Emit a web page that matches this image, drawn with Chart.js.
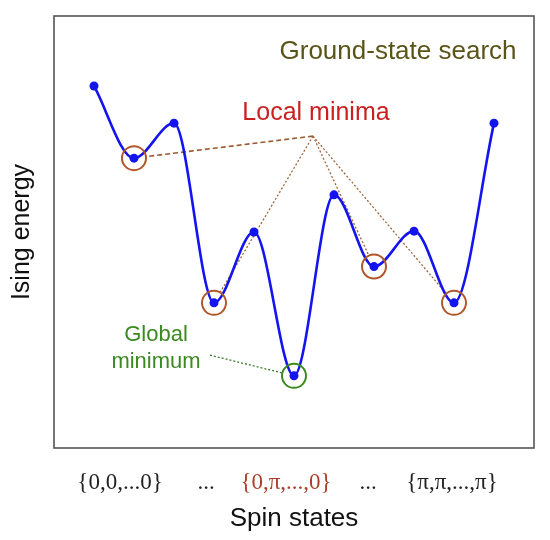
<!DOCTYPE html>
<html><head><meta charset="utf-8">
<script src="https://cdn.jsdelivr.net/npm/chart.js@4"></script>
<style>html,body{margin:0;padding:0;background:#fff}#wrap{width:550px;height:540px}</style>
</head><body><div id="wrap"><canvas id="c" width="550" height="540"></canvas></div>
<script>
// ---- data ----
const stateIndex = [0, 1, 2, 3, 4, 5, 6, 7, 8, 9, 10];
const energy = [83.8, 67.1, 75.2, 33.6, 50.0, 16.7, 58.6, 42.0, 50.2, 33.6, 75.2];
const localMinIdx = [1, 3, 7, 9];
const globalMinIdx = [5];
const tickPositions = [0.65, 2.8, 4.8, 6.85, 8.95];
const tickLabels = ['{0,0,...0}', '...', '{0,\u03c0,...,0}', '...', '{\u03c0,\u03c0,...,\u03c0}'];
const localApex = { x: 5.475, y: 72.2 };
const globalApex = { x: 2.9, y: 21.5 };

const curve = stateIndex.map((x, i) => ({ x, y: energy[i] }));
const localPts = localMinIdx.map(i => ({ x: stateIndex[i], y: energy[i] }));
const globalPts = globalMinIdx.map(i => ({ x: stateIndex[i], y: energy[i] }));

const SANS = '"Liberation Sans", Arial, sans-serif';
const SERIF = '"Liberation Serif", "Times New Roman", serif';

const decor = {
  id: 'decor',
  beforeDatasetsDraw(chart) {
    const { ctx, scales: { x, y } } = chart;
    const R = 12;
    function leader(a, p, dash, color, w) {
      const ax = x.getPixelForValue(a.x), ay = y.getPixelForValue(a.y);
      const px = x.getPixelForValue(p.x), py = y.getPixelForValue(p.y);
      const d = Math.hypot(px - ax, py - ay);
      const ex = px - (px - ax) / d * R, ey = py - (py - ay) / d * R;
      ctx.save();
      ctx.strokeStyle = color; ctx.lineWidth = w; ctx.setLineDash(dash);
      ctx.beginPath(); ctx.moveTo(ax, ay); ctx.lineTo(ex, ey); ctx.stroke();
      ctx.restore();
    }
    localPts.forEach((p, k) => {
      if (k === 0) leader(localApex, p, [5, 3], '#9a5a32', 1.6);
      else leader(localApex, p, [2, 2], '#a0663e', 1.3);
    });
    globalPts.forEach(p => leader(globalApex, p, [2, 2], '#3c7a2a', 1.3));
  },
  afterDraw(chart) {
    const { ctx, chartArea: a } = chart;
    ctx.save();
    ctx.strokeStyle = '#555'; ctx.lineWidth = 1.6;
    ctx.strokeRect(a.left, a.top, a.right - a.left, a.bottom - a.top);
    ctx.textAlign = 'center'; ctx.textBaseline = 'middle';
    ctx.fillStyle = '#5a5418'; ctx.font = '26px ' + SANS;
    ctx.fillText('Ground-state search', 398, 52);
    ctx.fillStyle = '#cc2020'; ctx.font = '25px ' + SANS;
    ctx.fillText('Local minima', 316, 113);
    ctx.fillStyle = '#3a8a20'; ctx.font = '22px ' + SANS;
    ctx.fillText('Global', 156, 335);
    ctx.fillText('minimum', 156, 362);
    ctx.restore();
  }
};

new Chart(document.getElementById('c'), {
  type: 'line',
  data: {
    datasets: [
      {
        data: curve,
        borderColor: '#1414f0', borderWidth: 2.6,
        cubicInterpolationMode: 'monotone',
        pointRadius: 4.5, pointBackgroundColor: '#1414f0', pointBorderWidth: 0,
        fill: false, order: 2
      },
      {
        data: localPts, showLine: false,
        pointRadius: 12, pointBorderColor: '#b0582a', pointBorderWidth: 2,
        pointBackgroundColor: 'rgba(0,0,0,0)', order: 1
      },
      {
        data: globalPts, showLine: false,
        pointRadius: 12, pointBorderColor: '#3a8a20', pointBorderWidth: 2,
        pointBackgroundColor: 'rgba(0,0,0,0)', order: 1
      }
    ]
  },
  options: {
    responsive: false, animation: false, devicePixelRatio: 1,
    layout: { padding: { top: 16, right: 16, left: 0, bottom: 0 } },
    plugins: { legend: { display: false }, tooltip: { enabled: false } },
    scales: {
      x: {
        type: 'linear', min: -1, max: 11,
        grid: { display: false, drawTicks: false },
        border: { display: false },
        afterFit(s) { s.height = 92; },
        afterBuildTicks(s) { s.ticks = tickPositions.map(v => ({ value: v })); },
        ticks: {
          autoSkip: false, maxRotation: 0, padding: 21,
          font: { family: SERIF, size: 23 },
          color: c => (c.index === 2 ? '#a8402a' : '#222'),
          callback: (v, i) => tickLabels[i]
        },
        title: {
          display: true, text: 'Spin states', color: '#111',
          font: { family: SANS, size: 26 }, padding: { top: 0, bottom: 6 }
        }
      },
      y: {
        min: 0, max: 100,
        grid: { display: false, drawTicks: false },
        border: { display: false },
        ticks: { display: false },
        afterFit(s) { s.width = 54; },
        title: {
          display: true, text: 'Ising energy', color: '#111',
          font: { family: SANS, size: 25 }, padding: { top: 7, bottom: 0 }
        }
      }
    }
  },
  plugins: [decor]
});
</script></body></html>
